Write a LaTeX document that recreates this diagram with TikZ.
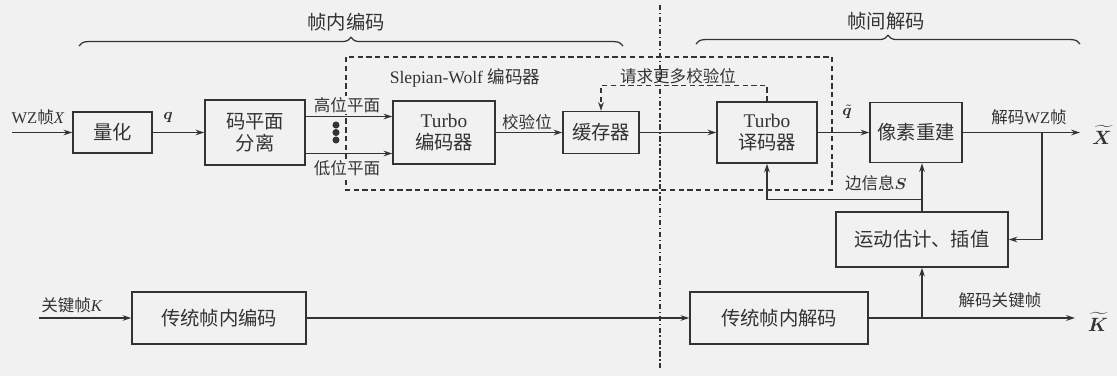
\documentclass[tikz,border=0pt]{standalone}
\usepackage{bm}
\usepackage{fontspec}
\setmainfont{Liberation Serif}
\newfontfamily\zhfont{Noto Sans CJK SC}
\usetikzlibrary{arrows.meta,calc,decorations.pathreplacing}
\definecolor{ink}{HTML}{333333}
\definecolor{paper}{HTML}{F1F1F1}
\newcommand{\zh}[1]{{\zhfont #1}}

\begin{document}
\begin{tikzpicture}[x=.02cm,y=-.02cm,>={Stealth[length=5pt,width=3.2pt]},
  blk/.style={draw=ink,line width=.8pt,text=ink,font=\fontsize{11}{12.5}\selectfont,align=center,inner sep=0pt},
  lbl/.style={text=ink,font=\fontsize{9.4}{11}\selectfont,inner sep=1pt},
  wire/.style={draw=ink,line width=.8pt},
  dsh/.style={draw=ink,line width=.7pt,dash pattern=on 3pt off 2pt}]
\fill[paper] (0,0) rectangle (1117,376);
% top braces
\draw[ink,line width=.7pt,decorate,decoration={brace,amplitude=5pt}] (79,46)--(623,46);
\draw[ink,line width=.7pt,decorate,decoration={brace,amplitude=5pt}] (696,44)--(1080,44);
\node[lbl,font=\fontsize{11}{12}\selectfont] (intra) at (346,22) {\zh{帧内编码}};
\node[lbl,font=\fontsize{11}{12}\selectfont] (inter) at (886,21) {\zh{帧间解码}};
\draw[ink,line width=.6pt,dash pattern=on 3pt off 1.5pt on .8pt off 1.5pt] (660,5)--(660,368);
% slepian-wolf
\draw[dsh] (346,57) rectangle (832,190);
\node[lbl,font=\fontsize{10}{12}\selectfont] (swl) at (465,78) {Slepian-Wolf \zh{编码器}};
% blocks
\node[blk,minimum width=1.58cm,minimum height=.82cm] (quant) at (112.5,132.5) {\zh{量化}};
\node[blk,minimum width=2cm,minimum height=1.3cm] (split) at (255,132.5) {\zh{码平面}\\\zh{分离}};
\node[blk,minimum width=2.04cm,minimum height=1.26cm] (tenc) at (444,132.5) {Turbo\\\zh{编码器}};
\node[blk,minimum width=1.52cm,minimum height=.84cm] (buf) at (601,132.5) {\zh{缓存器}};
\node[blk,minimum width=2cm,minimum height=1.22cm] (tdec) at (767,132.5) {Turbo\\\zh{译码器}};
\node[blk,minimum width=1.84cm,minimum height=1.2cm] (recon) at (916,132.5) {\zh{像素重建}};
\node[blk,minimum width=3.44cm,minimum height=1.1cm] (mci) at (922,239.5) {\zh{运动估计、插值}};
\node[blk,minimum width=3.48cm,minimum height=1.04cm] (kenc) at (219,318) {\zh{传统帧内编码}};
\node[blk,minimum width=3.56cm,minimum height=1.04cm] (kdec) at (779,318) {\zh{传统帧内解码}};
\coordinate (wzin) at (12,132.5);
\coordinate (xout) at (1080,132.5);
\coordinate (tap) at (1042,132.5);
\coordinate (kin) at (39,318);
\coordinate (kout) at (1075,318);
% wz path
\draw[wire,->] (wzin)--(quant);
\draw[wire,->] (quant)--(split);
\draw[wire,->] ([yshift=.32cm]split.east)--([yshift=.32cm]split.east -| tenc.west);
\draw[wire,->] ([yshift=-.42cm]split.east)--([yshift=-.42cm]split.east -| tenc.west);
\foreach \y in {125,132.5,140}{\fill[ink] (336,\y) circle (2pt);}
\draw[wire,->] (tenc)--(buf);
\draw[wire,->] (buf)--(tdec);
\draw[wire,->] (tdec)--(recon);
\draw[wire,->] (recon)--(xout);
\draw[wire,->] (tap) |- (mci);
\draw[wire,->] (mci.north)--(mci.north |- recon.south);
\draw[wire,->] (mci.north)--++(0,-12) -| (tdec.south);
\draw[dsh,->] (tdec.north)--++(0,-16) -| (buf.north);
% key frames
\draw[wire,->] (kin)--(kenc);
\draw[wire,->] (kenc)--(kdec);
\draw[wire,->] (kdec)--(kout);
\draw[wire,->] (kdec.east -| mci.south)--(mci.south);
% labels
\node[lbl] (wzl) at (38,117) {WZ\zh{帧}\textit{X}};
\node[lbl] (ql) at (168,118) {$\bm{q}$};
\node[lbl,fill=paper] (hil) at (347,105) {\zh{高位平面}};
\node[lbl,fill=paper] (lol) at (347,168) {\zh{低位平面}};
\node[lbl] (chk) at (527,122) {\zh{校验位}};
\node[lbl] (req) at (678,76) {\zh{请求更多校验位}};
\node[lbl] (qt) at (847,112) {$\bm{\tilde{q}}$};
\node[lbl] (dwz) at (1029,117) {\zh{解码}WZ\zh{帧}};
\node[lbl,font=\fontsize{11}{12}\selectfont] (xh) at (1102,135) {$\bm{\widetilde{X}}$};
\node[lbl] (sil) at (876,183) {\zh{边信息}$\bm{S}$};
\node[lbl] (kl) at (72,305) {\zh{关键帧}\textit{K}};
\node[lbl] (dkl) at (1000,300) {\zh{解码关键帧}};
\node[lbl,font=\fontsize{11}{12}\selectfont] (kh) at (1098,322) {$\bm{\widetilde{K}}$};
\end{tikzpicture}
\end{document}
